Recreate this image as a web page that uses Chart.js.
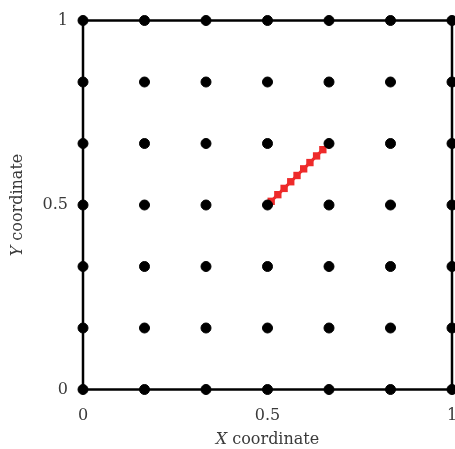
<!DOCTYPE html>
<html>
<head>
<meta charset="utf-8">
<script src="https://cdn.jsdelivr.net/npm/chart.js@4"></script>
<style>
  html, body { margin: 0; padding: 0; background: #fff; }
  #wrap { width: 455px; height: 449px; }
</style>
</head>
<body>
<div id="wrap"><canvas id="gridChart" width="455" height="449"></canvas></div>
<script>
// grid nodes (0, 1/6, ..., 1) in both directions
const gridSteps = [0, 1/6, 2/6, 3/6, 4/6, 5/6, 1];
// red path
const pathX = [0.51, 0.528, 0.545, 0.563, 0.58, 0.598, 0.615, 0.633, 0.65];
const pathY = [0.51, 0.528, 0.545, 0.563, 0.58, 0.598, 0.615, 0.633, 0.65];
// tick labels
const tickValues = [0, 0.5, 1];

const FONT = '"DejaVu Serif", "Liberation Serif", serif';
const TEXT = '#3a3a3a';

const gridPoints = [];
gridSteps.forEach(x => gridSteps.forEach(y => gridPoints.push({ x: x, y: y })));
const pathPoints = pathX.map((x, i) => ({ x: x, y: pathY[i] }));

// box round the plot area, drawn under the dots
const boxPlugin = {
    id: 'box',
    beforeDatasetsDraw(chart) {
        const a = chart.chartArea;
        const ctx = chart.ctx;
        ctx.save();
        ctx.strokeStyle = '#000';
        ctx.lineWidth = 2.5;
        ctx.strokeRect(a.left, a.top, a.right - a.left, a.bottom - a.top);
        ctx.restore();
    }
};

// axis titles with italic X / Y
const titlePlugin = {
    id: 'titles',
    afterDraw(chart) {
        const ctx = chart.ctx;
        const a = chart.chartArea;
        function label(letter, cx, cy, rot) {
            ctx.save();
            ctx.translate(cx, cy);
            ctx.rotate(rot);
            ctx.fillStyle = TEXT;
            ctx.textBaseline = 'middle';
            ctx.font = 'italic 16px ' + FONT;
            const w1 = ctx.measureText(letter).width;
            ctx.font = '16px ' + FONT;
            const rest = ' coordinate';
            const w2 = ctx.measureText(rest).width;
            const start = -(w1 + w2) / 2;
            ctx.textAlign = 'left';
            ctx.font = 'italic 16px ' + FONT;
            ctx.fillText(letter, start, 0);
            ctx.font = '16px ' + FONT;
            ctx.fillText(rest, start + w1, 0);
            ctx.restore();
        }
        label('X', (a.left + a.right) / 2, 440, 0);
        label('Y', 18, (a.top + a.bottom) / 2, -Math.PI / 2);
    }
};

function noPad(s) {
    s.paddingLeft = 0; s.paddingRight = 0;
    s.paddingTop = 0; s.paddingBottom = 0;
}

const ctx = document.getElementById('gridChart').getContext('2d');
new Chart(ctx, {
    type: 'scatter',
    data: {
        datasets: [
            {
                data: gridPoints,
                backgroundColor: '#000',
                borderColor: '#000',
                pointRadius: 5,
                pointHoverRadius: 5,
                clip: false
            },
            {
                data: pathPoints,
                showLine: true,
                borderColor: '#ee2a2a',
                borderWidth: 3,
                backgroundColor: '#ee2a2a',
                pointStyle: 'rect',
                pointRadius: 5.2,
                pointBorderWidth: 0,
                clip: false
            }
        ]
    },
    options: {
        responsive: false,
        animation: false,
        events: [],
        layout: { autoPadding: false, padding: { top: 20.5, right: 3, left: 0, bottom: 0 } },
        plugins: { legend: { display: false }, tooltip: { enabled: false } },
        scales: {
            x: {
                type: 'linear', min: 0, max: 1,
                grid: { display: false },
                border: { display: false },
                afterBuildTicks: s => { s.ticks = tickValues.map(v => ({ value: v })); },
                afterFit: s => { s.height = 59.5; noPad(s); },
                ticks: {
                    color: TEXT, padding: 9,
                    font: { family: FONT, size: 16 },
                    maxRotation: 0,
                    callback: v => String(v)
                }
            },
            y: {
                type: 'linear', min: 0, max: 1,
                grid: { display: false },
                border: { display: false },
                afterBuildTicks: s => { s.ticks = tickValues.map(v => ({ value: v })); },
                afterFit: s => { s.width = 83; noPad(s); },
                ticks: {
                    color: TEXT, padding: 7,
                    font: { family: FONT, size: 16 },
                    callback: v => String(v)
                }
            }
        }
    },
    plugins: [boxPlugin, titlePlugin]
});
</script>
</body>
</html>
